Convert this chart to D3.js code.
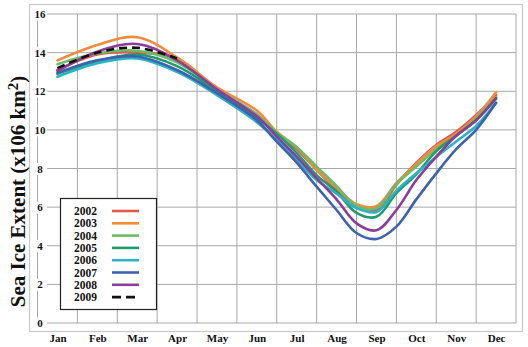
<!DOCTYPE html>
<html><head><meta charset="utf-8">
<script src="https://cdn.jsdelivr.net/npm/d3@7"></script>
<style>
html,body{margin:0;padding:0;background:#fff;}
svg{display:block;}
text{font-family:"Liberation Serif","Times New Roman",serif;font-weight:bold;fill:#111;}
</style></head>
<body>
<svg id="c" width="528" height="347"></svg>
<script>
const monthLabels = ["Jan","Feb","Mar","Apr","May","Jun","Jul","Aug","Sep","Oct","Nov","Dec"];
const yTicks = [0,2,4,6,8,10,12,14,16];
const xPos = [0,1,2,3,4,5,5.5,6,6.5,7,7.5,8,8.5,9,9.5,10,10.5,11];
const xPos2009 = [0,1,2,3];
const years = ["2002","2003","2004","2005","2006","2007","2008","2009"];
const s2002 = [13.1,13.9,14.0,13.7,12.1,10.8,9.84,9.0,7.92,6.9,6.0,5.85,7.15,8.3,9.22,9.9,10.77,11.8];
const s2003 = [13.6,14.4,14.8,13.75,12.2,11.0,9.9,9.1,7.95,7.0,6.15,6.05,7.25,8.25,9.15,9.8,10.7,11.95];
const s2004 = [13.4,13.95,14.1,13.5,12.1,10.8,9.84,9.1,8.1,7.1,6.05,5.95,7.2,8.1,9.0,9.7,10.6,11.7];
const s2005 = [12.9,13.55,13.9,13.3,12.0,10.6,9.8,8.8,7.66,6.8,5.7,5.5,6.72,7.7,8.9,9.7,10.5,11.6];
const s2006 = [12.75,13.45,13.7,13.0,11.8,10.4,9.48,8.45,7.4,6.7,5.95,5.75,6.85,7.75,8.6,9.4,10.2,11.4];
const s2007 = [12.95,13.6,13.8,13.1,11.9,10.5,9.39,8.3,7.06,5.85,4.66,4.35,4.99,6.4,7.75,9.0,10.0,11.4];
const s2008 = [13.05,14.05,14.45,13.6,12.1,10.7,9.65,8.6,7.5,6.4,5.16,4.8,5.85,7.4,8.61,9.7,10.5,11.65];
const s2009 = [13.2,14.0,14.25,13.7];
const colors = ["#e2574c","#f08c3c","#6dbb68","#1f9b6c","#2ab2c6","#3f62ae","#8b3d97","#111111"];

const svg = d3.select("#c");
const x = d3.scaleLinear().domain([-0.5, 11.5]).range([37.5, 516]);
const y = d3.scaleLinear().domain([0, 16]).range([323, 14]);

// outer frame
svg.append("rect").attr("x",29.5).attr("y",4.5).attr("width",493).attr("height",327)
  .attr("fill","none").attr("stroke","#c8c8c8").attr("stroke-width",1.2);

// grid
const g = svg.append("g");
d3.range(0.5, 11.6, 1).forEach(v => {
  g.append("line").attr("x1",x(v)).attr("x2",x(v)).attr("y1",y(16)).attr("y2",y(0))
    .attr("stroke","#a8a8a8").attr("stroke-width",1);
});
yTicks.forEach(v => {
  g.append("line").attr("x1",47).attr("x2",x(11.5)).attr("y1",y(v)).attr("y2",y(v))
    .attr("stroke","#a8a8a8").attr("stroke-width",1);
});
g.append("line").attr("x1",37.5).attr("x2",37.5).attr("y1",y(16)).attr("y2",y(0))
  .attr("stroke","#a8a8a8").attr("stroke-width",1);

// y axis labels
const ya = svg.append("g").attr("transform","translate(40,0)")
  .call(d3.axisLeft(y).tickValues(yTicks).tickSize(0).tickPadding(0));
ya.select(".domain").remove();
ya.selectAll(".tick text").attr("text-anchor","middle").attr("font-size",11)
  .attr("font-family","Liberation Serif, serif").attr("font-weight","bold").attr("fill","#111");
ya.selectAll(".tick").insert("rect","text").attr("x",-6).attr("y",-6).attr("width",12).attr("height",12).attr("fill","#fff");

// x axis labels
const xa = svg.append("g").attr("transform","translate(0,330)")
  .call(d3.axisBottom(x).tickValues(d3.range(12)).tickFormat(i => monthLabels[i]).tickSize(0).tickPadding(4));
xa.select(".domain").remove();
xa.selectAll(".tick text").attr("font-size",11).attr("font-family","Liberation Serif, serif")
  .attr("font-weight","bold").attr("fill","#111");

// y title
const title = svg.append("text").attr("transform","translate(25,191.5) rotate(-90)")
  .attr("text-anchor","middle").attr("font-size",21);
title.append("tspan").text("Sea Ice Extent (x106 km");
title.append("tspan").attr("font-size",15).attr("dy",-7).text("2");
title.append("tspan").attr("dy",7).text(")");

// lines
const series = [s2002,s2003,s2004,s2005,s2006,s2007,s2008];
const line = d3.line().x(d => x(d[0])).y(d => y(d[1])).curve(d3.curveCatmullRom.alpha(0.5));
const lg = svg.append("g");
series.forEach((s,i) => {
  lg.append("path").datum(s.map((v,j) => [xPos[j], v]))
    .attr("d", line).attr("fill","none").attr("stroke",colors[i]).attr("stroke-width",2.6)
    .attr("stroke-linejoin","round").attr("stroke-linecap","round");
});
lg.append("path").datum(s2009.map((v,j) => [xPos2009[j], v]))
  .attr("d", line).attr("fill","none").attr("stroke",colors[7]).attr("stroke-width",2.6)
  .attr("stroke-dasharray","8,5");

// legend
const leg = svg.append("g");
leg.append("rect").attr("x",60.5).attr("y",198.5).attr("width",96).attr("height",111)
  .attr("fill","#fff").attr("stroke","#222").attr("stroke-width",1.2);
years.forEach((yr,i) => {
  const cy = 211 + i*12.3;
  leg.append("text").attr("x",97).attr("y",cy+4).attr("text-anchor","end").attr("font-size",11.5).text(yr);
  leg.append("line").attr("x1",112).attr("x2",139).attr("y1",cy).attr("y2",cy)
    .attr("stroke",colors[i]).attr("stroke-width",2.6)
    .attr("stroke-dasharray", i===7 ? "9,5" : null);
});
</script>
</body></html>
